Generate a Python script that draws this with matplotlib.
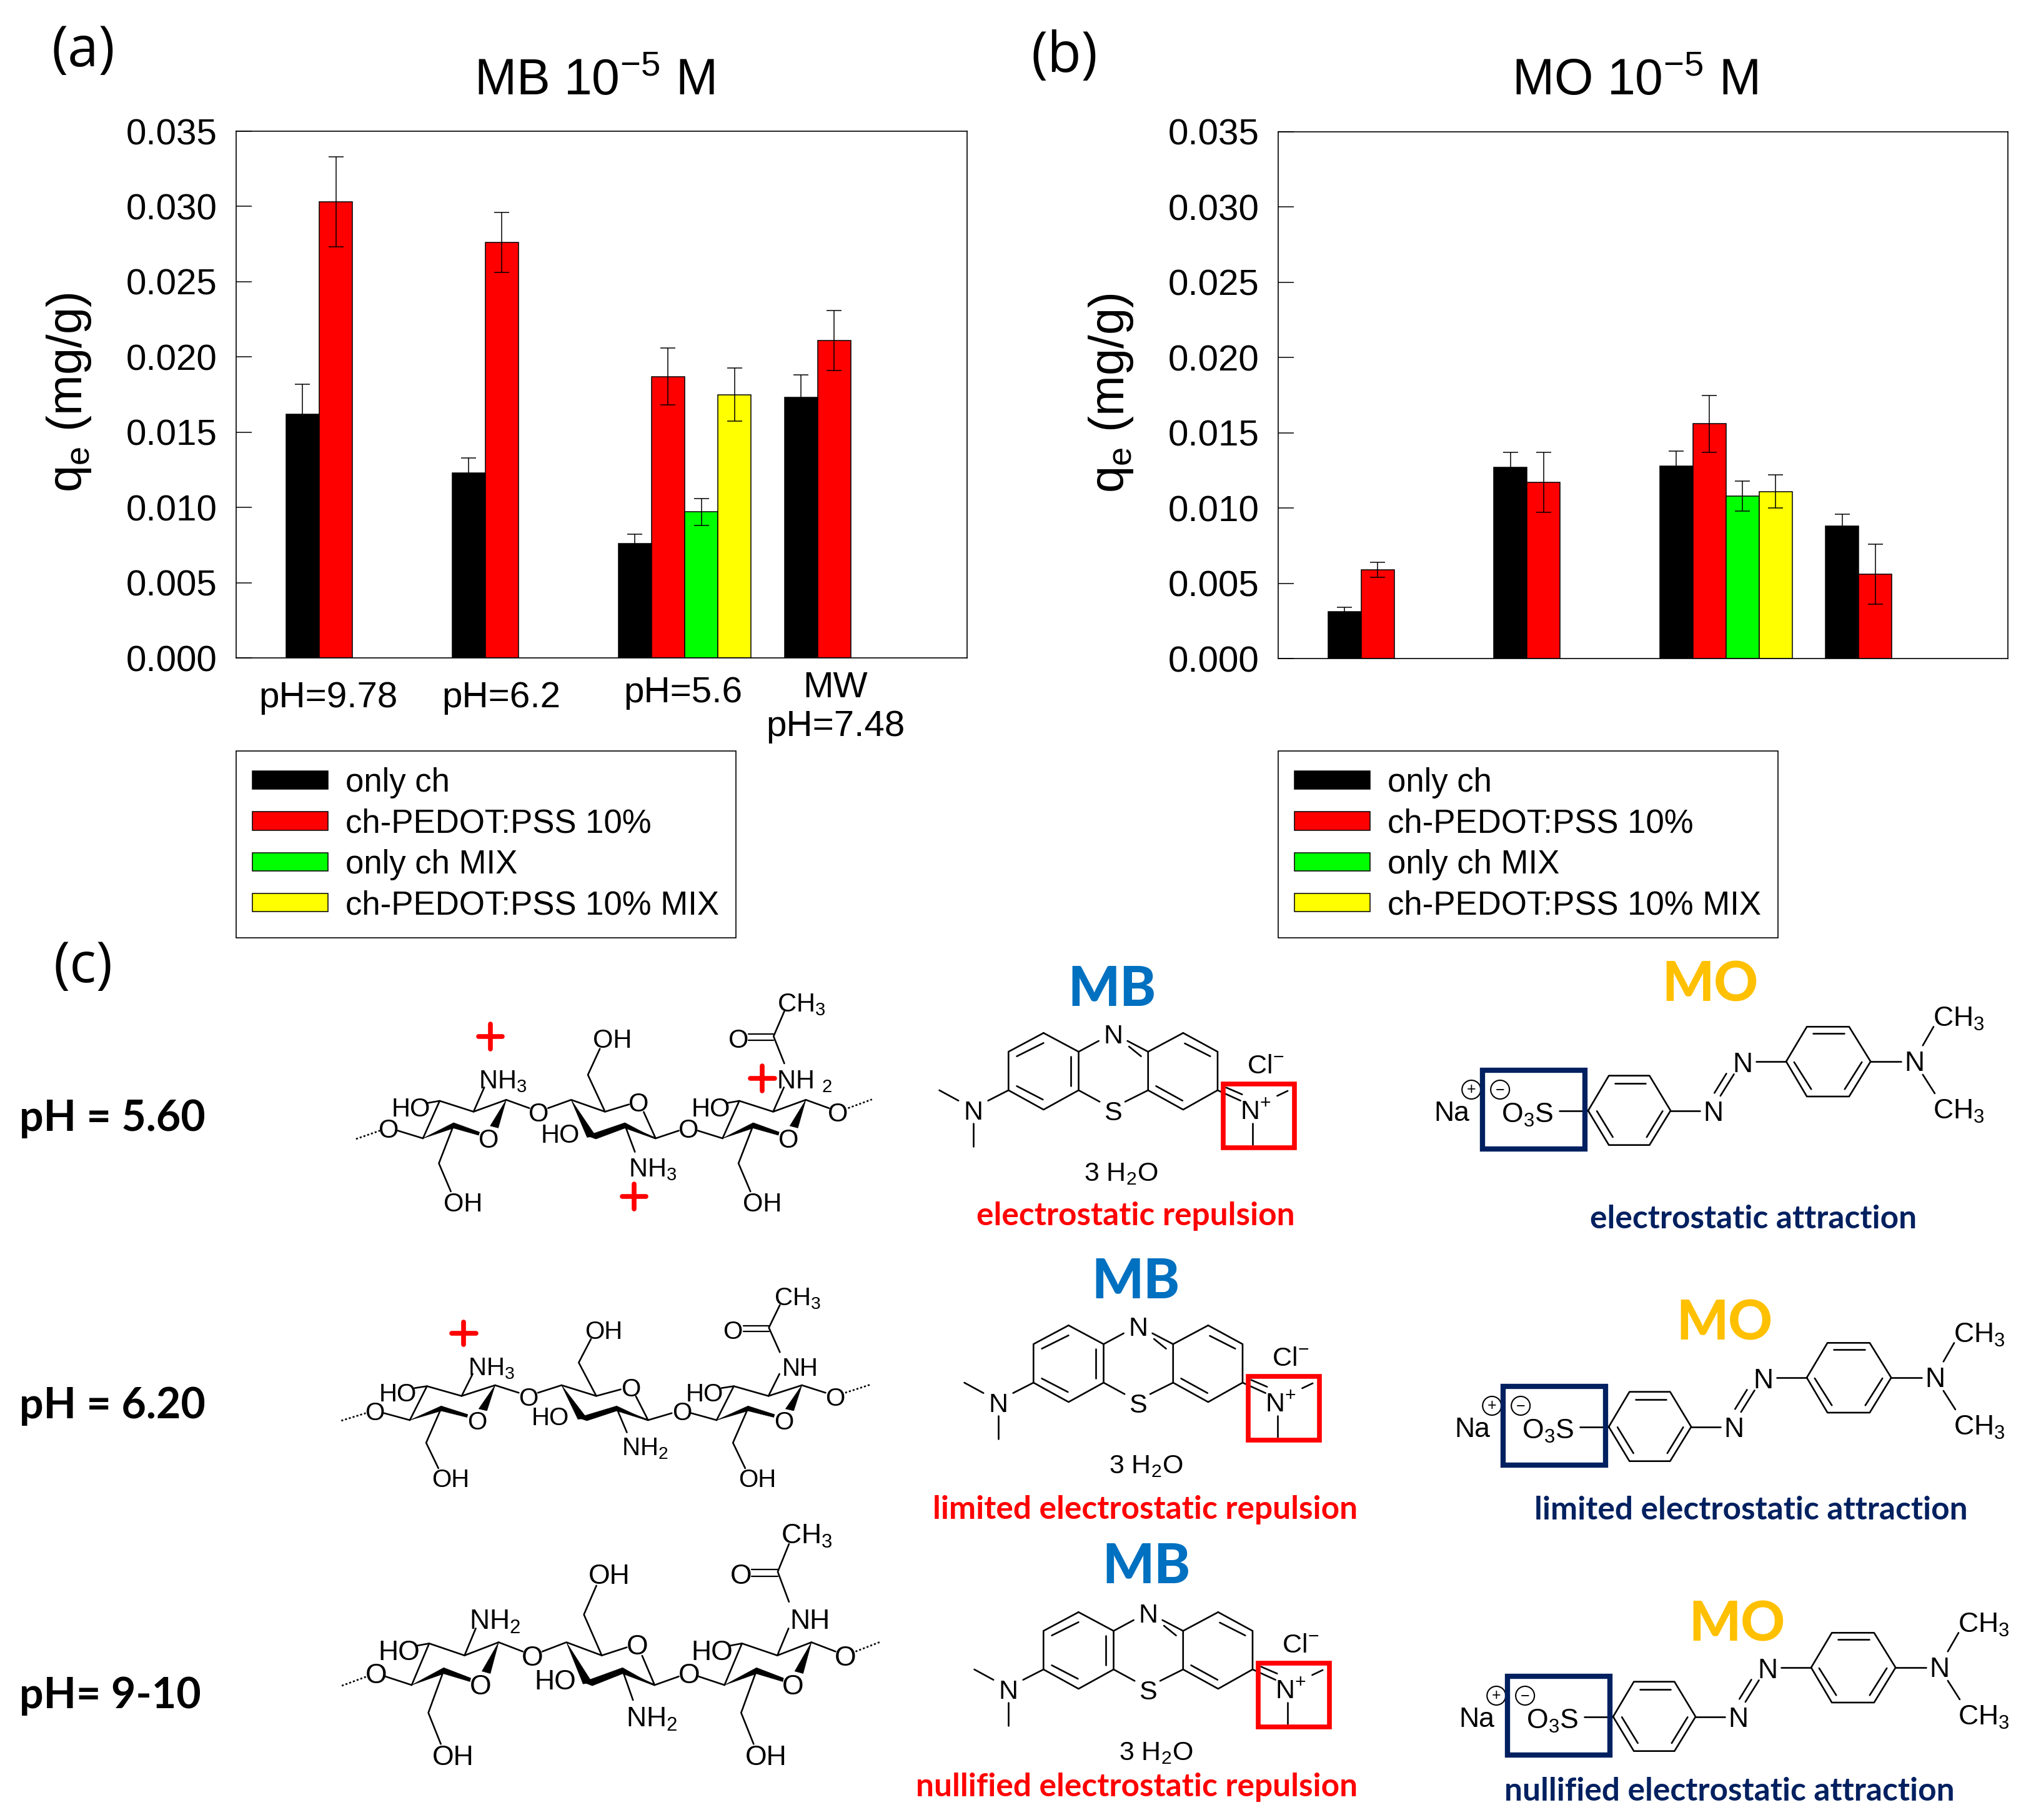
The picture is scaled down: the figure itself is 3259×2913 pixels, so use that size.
import matplotlib
matplotlib.use("Agg")
import matplotlib.pyplot as plt
from matplotlib.patches import Patch, Polygon, Rectangle, Circle
from matplotlib import font_manager as fm

W, H = 3259, 2913
plt.rcParams.update({
    "font.family": ["Liberation Sans", "DejaVu Sans"],
    "mathtext.fontset": "custom", "mathtext.rm": "Liberation Sans",
    "mathtext.it": "Liberation Sans", "mathtext.default": "regular",
})
installed = {f.name for f in fm.fontManager.ttflist}
NARROW = "Liberation Sans Narrow" if "Liberation Sans Narrow" in installed else "Liberation Sans"
BOLD = "Lato"

# ---------- chart data ----------
series_names = ["only ch", "ch-PEDOT:PSS 10%", "only ch MIX", "ch-PEDOT:PSS 10% MIX"]
series_colors = ["#000000", "#ff0000", "#00ff00", "#ffff00"]
groups_all = [1, 2, 3, 4]
groups_mix = [3]

mb_only_ch = [0.0162, 0.0123, 0.0076, 0.0173]
mb_only_ch_err = [0.0020, 0.0010, 0.0006, 0.0015]
mb_pedot = [0.0303, 0.0276, 0.0187, 0.0211]
mb_pedot_err = [0.0030, 0.0020, 0.0019, 0.0020]
mb_only_mix = [0.0097]
mb_only_mix_err = [0.0009]
mb_pedot_mix = [0.0175]
mb_pedot_mix_err = [0.00175]

mo_only_ch = [0.0031, 0.0127, 0.0128, 0.0088]
mo_only_ch_err = [0.0003, 0.0010, 0.0010, 0.0008]
mo_pedot = [0.0059, 0.0117, 0.0156, 0.0056]
mo_pedot_err = [0.0005, 0.0020, 0.0019, 0.0020]
mo_only_mix = [0.0108]
mo_only_mix_err = [0.0010]
mo_pedot_mix = [0.0111]
mo_pedot_mix_err = [0.0011]

y_ticks = [0, 0.005, 0.010, 0.015, 0.020, 0.025, 0.030, 0.035]
group_labels = ["pH=9.78", "pH=6.2", "pH=5.6", "MW\npH=7.48"]
group_label_pos = [1.053, 2.095, 3.19, 4.107]
group_label_shift = [-0.076, -0.076, -0.067, -0.025]

row_labels = ["pH = 5.60", "pH = 6.20", "pH= 9-10"]
repulsion_labels = ["electrostatic repulsion", "limited electrostatic repulsion", "nullified electrostatic repulsion"]
attraction_labels = ["electrostatic attraction", "limited electrostatic attraction", "nullified electrostatic attraction"]

fig = plt.figure(figsize=(W / 100, H / 100), dpi=100, facecolor="white")


def panel(box, title, title_xy, data, legend_xy, xlabels=True, ylab_x=110):
    l, t, r, b = box
    ax = fig.add_axes([l / W, 1 - b / H, (r - l) / W, (b - t) / H], zorder=3)
    bw = 0.2
    for i, (g, v, e) in enumerate(data):
        x = [k + (i - 1) * bw for k in g]
        ax.bar(x, v, bw, align="edge", color=series_colors[i], edgecolor="black", linewidth=1.1, label=series_names[i])
        ax.errorbar([p + bw / 2 for p in x], v, yerr=e, fmt="none", ecolor="black",
                    elinewidth=1.1, capsize=8.5, capthick=1.1)
    ax.set_xlim(0.5, 4.9)
    ax.set_ylim(0, 0.035)
    ax.set_yticks(y_ticks, [f"{v:.3f}" for v in y_ticks])
    ax.tick_params(axis="y", direction="in", length=18, width=1.1, labelsize=42, pad=22)
    if xlabels:
        ax.set_xticks(group_label_pos, group_labels)
        ax.tick_params(axis="x", length=0, labelsize=42, pad=0)
        for lab, dy in zip(ax.get_xticklabels(), group_label_shift):
            lab.set_y(dy)
            lab.set_va("center" if "\n" not in lab.get_text() else "top")
            lab.set_linespacing(1.2)
    else:
        ax.set_xticks([])
    for s in ax.spines.values():
        s.set_linewidth(1.2)
    ov.text(title_xy[0], title_xy[1], title, fontsize=58, ha="center", va="center")
    ov.text(ylab_x + l - 378, (t + b) / 2 - 3, r"q$_{e}$ (mg/g)", fontsize=56, rotation=90, ha="center", va="center")
    ax.legend(loc="upper left", bbox_to_anchor=legend_xy, bbox_transform=fig.transFigure,
              borderaxespad=0, fontsize=38, frameon=True, fancybox=False, edgecolor="black",
              framealpha=1, handlelength=2.29, handleheight=0.48, handletextpad=0.53,
              borderpad=0.5, labelspacing=0.29).get_frame().set_linewidth(1.2)
    return ax


# ---------- full figure layer for diagram ----------
ov = fig.add_axes([0, 0, 1, 1], zorder=1)
ov.set_xlim(0, W)
ov.set_ylim(H, 0)
ov.axis("off")

panel((378, 210, 1548, 1053), "MB 10$^{-5}$ M", (951, 131),
      [(groups_all, mb_only_ch, mb_only_ch_err), (groups_all, mb_pedot, mb_pedot_err),
       (groups_mix, mb_only_mix, mb_only_mix_err), (groups_mix, mb_pedot_mix, mb_pedot_mix_err)],
      (378 / W, 1 - 1202 / H))
panel((2046, 211, 3214, 1054), "MO 10$^{-5}$ M", (2617, 131),
      [(groups_all, mo_only_ch, mo_only_ch_err), (groups_all, mo_pedot, mo_pedot_err),
       (groups_mix, mo_only_mix, mo_only_mix_err), (groups_mix, mo_pedot_mix, mo_pedot_mix_err)],
      (2046 / W, 1 - 1202 / H), xlabels=False)

# panel letters
for s, x, y in [("(a)", 133, 83), ("(b)", 1704, 92), ("(c)", 133, 1549)]:
    ov.text(x, y, s, fontsize=64, family="Open Sans", ha="center", va="center")
for s, y in zip(row_labels, [1791, 2250, 2714]):
    ov.text(31, y, s, fontsize=49, family=BOLD, weight="bold", ha="left", va="center")


# ---------- drawing helpers ----------
def draw(T, lw=1.9, color="black"):
    def seg(*pts, ls="-", c=None, w=None):
        xs, ys = zip(*[T(*p) for p in pts])
        ov.plot(xs, ys, ls=ls, color=c or color, lw=w or lw, solid_capstyle="round")
    def poly(*pts):
        ov.add_patch(Polygon([T(*p) for p in pts], closed=True, fc="black", ec="black", lw=0.5))
    def lab(x, y, s, size=30, **k):
        px, py = T(x, y)
        k.setdefault("family", [NARROW, "Liberation Sans"])
        ov.text(px, py + 4, s, fontsize=size, ha="center", va="center", **k)
    return seg, poly, lab


def chitosan(x0, y0, sx, sy, nh, plus, size):
    T = lambda zx, zy: (x0 + sx * (zx - 278) / 1.568, y0 + sy * (zy - 875) / 3)
    seg, poly, lab = draw(T)
    for d in (0, 752):
        seg((d + 278, 875), (d + 320, 695), (d + 405, 747), (d + 487, 690))
        seg((d + 320, 695), (d + 290, 705))
        poly((d + 278, 875), (d + 355, 800), (d + 355, 826))
        poly((d + 355, 800), (d + 355, 826), (d + 418, 860), (d + 420, 845))
        poly((d + 487, 690), (d + 447, 815), (d + 467, 825))
        seg((d + 355, 812), (d + 318, 995), (d + 348, 1130))
        seg((d + 405, 747), (d + 432, 630))
        lab(d + 248, 725, "HO", size)
        lab(d + 378, 1180, "OH", size)
        seg((d + 487, 690), (d + 545, 730))
        lab(d + 568, 748, "O", size)
    # left / right chain ends
    lab(192, 826, "O", size)
    seg((215, 838), (278, 875))
    seg((110, 878), (170, 838), ls=(0, (1.2, 1.2)))
    seg((1345, 730), (1405, 688), ls=(0, (1.2, 1.2)))
    # middle ring
    seg((592, 730), (650, 690), (735, 747), (795, 712))
    seg((832, 748), (862, 875), (785, 812))
    poly((650, 690), (690, 870), (712, 865))
    poly((690, 862), (712, 878), (785, 826), (785, 800))
    poly((785, 800), (785, 826), (862, 878))
    seg((735, 747), (692, 570), (722, 445))
    seg((785, 812), (810, 940))
    seg((862, 875), (920, 838))
    seg((968, 838), (1030, 875))
    lab(945, 826, "O", size)
    lab(820, 700, "O", size)
    lab(443, 875, "O", size)
    lab(1195, 875, "O", size)
    lab(623, 852, "HO", size)
    lab(753, 395, "OH", size)
    # acetamide
    seg((1185, 515), (1158, 385), (1185, 265))
    seg((1095, 375), (1158, 375), w=1.6)
    seg((1095, 405), (1158, 405), w=1.6)
    lab(1070, 395, "O", size)
    lab(1228, 220, "CH$_3$", size)
    # amines
    lab(478, 590, nh[0], size)
    lab(855, 1012, nh[1], size)
    lab(1235, 590, nh[2], size)
    for (px, py) in plus:
        seg((px - 30, py), (px + 30, py), c="#ff0000", w=5.5)
        seg((px, py - 60), (px, py + 60), c="#ff0000", w=5.5)


def methylene_blue(dx, dy):
    T = lambda zx, zy: (1450 + dx + zx / 1.96, 1530 + dy + zy / 3)
    seg, poly, lab = draw(T)
    seg((432, 370), (322, 460), (322, 645), (432, 738), (542, 645), (542, 460), (432, 370))
    seg((870, 370), (978, 460), (978, 645), (870, 738), (760, 645), (760, 460), (870, 370))
    seg((432, 418), (348, 482)); seg((348, 625), (430, 690)); seg((518, 482), (518, 625))
    seg((875, 420), (955, 482)); seg((785, 625), (868, 695))
    seg((542, 460), (605, 408)); seg((695, 408), (760, 460)); seg((700, 435), (738, 482))
    seg((542, 645), (608, 700)); seg((688, 700), (760, 645))
    seg((322, 645), (258, 695)); seg((165, 695), (105, 645)); seg((212, 805), (212, 915))
    seg((978, 645), (1050, 695)); seg((1005, 632), (1055, 665))
    seg((1165, 672), (1198, 648)); seg((1088, 805), (1088, 905))
    f = dict(family="Liberation Sans")
    lab(650, 375, "N", 31, **f); lab(650, 745, "S", 31, **f)
    lab(212, 740, "N", 31, **f)
    lab(1098, 740, "N$^{+}$", 31, **f)
    lab(1128, 520, "Cl$^{-}$", 31, **f)
    lab(675, 1035, "3 H$_2$O", 31, **f)
    a = T(995, 615); b = T(1220, 922)
    ov.add_patch(Rectangle(a, b[0] - a[0], b[1] - a[1], fc="none", ec="#ff0000", lw=5.5, zorder=4))


def methyl_orange(dx, dy):
    T = lambda zx, zy: (2250 + dx + zx / 1.568, 1530 + dy + zy / 3)
    seg, poly, lab = draw(T)
    seg((458, 743), (510, 575), (612, 575), (665, 743), (612, 908), (510, 908), (458, 743))
    seg((525, 612), (602, 612)); seg((480, 745), (520, 870)); seg((645, 745), (605, 870))
    seg((955, 507), (1007, 340), (1113, 340), (1167, 507), (1113, 675), (1007, 675), (955, 507))
    seg((1022, 373), (1100, 373)); seg((975, 510), (1018, 640)); seg((1145, 510), (1102, 640))
    seg((385, 743), (458, 743)); seg((665, 743), (738, 743))
    seg((790, 672), (824, 568)); seg((775, 658), (805, 565))
    seg((880, 507), (955, 507)); seg((1167, 507), (1243, 507))
    seg((1298, 430), (1325, 340)); seg((1298, 570), (1328, 660))
    f = dict(family="Liberation Sans")
    lab(772, 745, "N", 32, **f); lab(846, 510, "N", 32, **f); lab(1277, 505, "N", 32, **f)
    lab(1388, 290, "CH$_3$", 32, **f); lab(1388, 735, "CH$_3$", 32, **f)
    lab(115, 745, "Na", 32, **f); lab(305, 752, "O$_3$S", 32, **f)
    for (zx, zy, s) in [(165, 642, "+"), (237, 642, "\u2212")]:
        c = T(zx, zy)
        ov.add_patch(Circle(c, 15, fc="none", ec="black", lw=1.5))
        ov.text(c[0], c[1], s, fontsize=18, ha="center", va="center")
    a = T(193, 548); b = T(450, 928)
    ov.add_patch(Rectangle(a, b[0] - a[0], b[1] - a[1], fc="none", ec="#002060", lw=6, zorder=4))


# ---------- row c ----------
chitosan(677, 1822, 1.0, 1.0, ["NH$_3$", "NH$_3$", "NH $_2$"], [(447, 387), (1130, 587), (808, 1155)], 30)
chitosan(656, 2273, 1.024, 0.906, ["NH$_3$", "NH$_2$", "NH"], [(410, 414)], 29)
chitosan(659, 2697, 1.044, 1.11, ["NH$_2$", "NH$_2$", "NH"], [], 32)

for d in [(0, 0), (40, 468), (56, 927)]:
    methylene_blue(*d)
for d in [(0, 0), (33, 506), (40, 970)]:
    methyl_orange(*d)

for (x, y) in [(1780, 1584), (1818, 2053), (1835, 2508)]:
    ov.text(x, y, "MB", fontsize=63, family=BOLD, weight="black", color="#0070c0", ha="center", va="center")
for (x, y) in [(2737, 1577), (2760, 2119), (2780, 2601)]:
    ov.text(x, y, "MO", fontsize=63, family=BOLD, weight="black", color="#ffc000", ha="center", va="center")
for s, (x, y) in zip(repulsion_labels, [(1818, 1947), (1833, 2417), (1820, 2861)]):
    ov.text(x, y, s, fontsize=37, family=BOLD, weight="bold", color="#ff0000", ha="center", va="center")
for s, (x, y) in zip(attraction_labels, [(2807, 1951), (2803, 2417), (2768, 2868)]):
    ov.text(x, y, s, fontsize=37, family=BOLD, weight="bold", color="#002060", ha="center", va="center")

fig.savefig("out.png", dpi=100, facecolor="white")
